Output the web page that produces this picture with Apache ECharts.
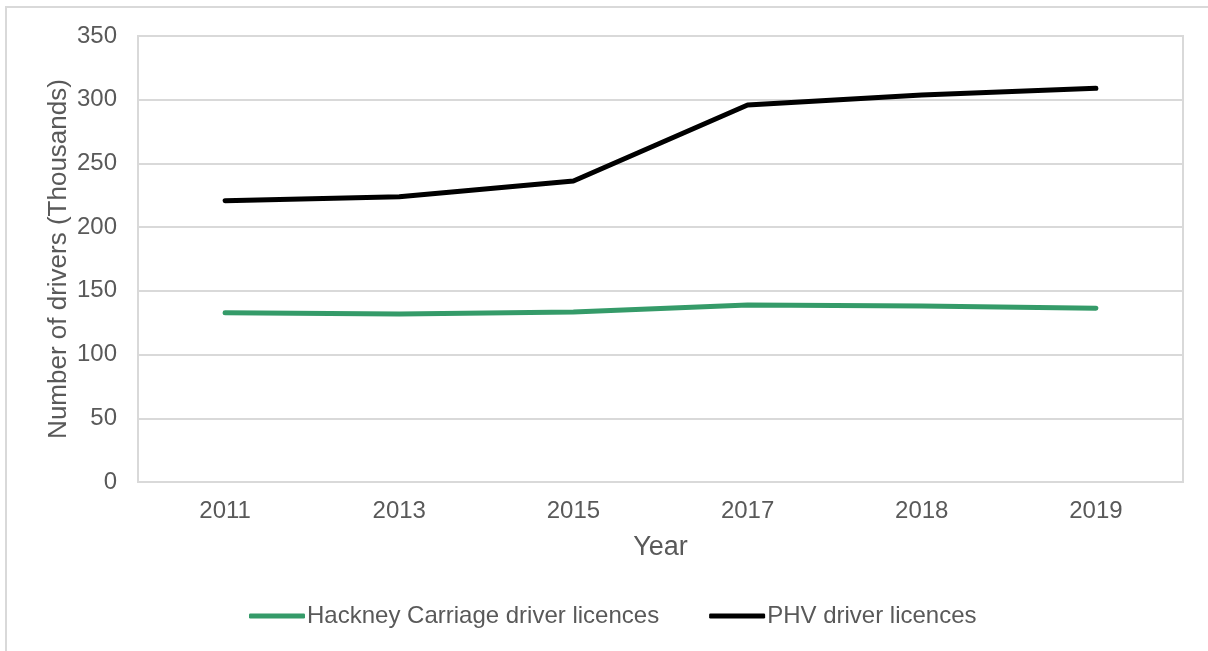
<!DOCTYPE html>
<html>
<head>
<meta charset="utf-8">
<script src="https://cdn.jsdelivr.net/npm/echarts@6/dist/echarts.min.js"></script>
<style>
  html, body { margin: 0; padding: 0; background: #fff; }
  #wrap { position: relative; width: 1208px; height: 651px; }
  #chart { width: 1208px; height: 651px; }
  .frame { position: absolute; left: 5px; top: 6px; right: 0; bottom: 0;
           border-left: 2px solid #d9d9d9; border-top: 2px solid #d9d9d9; pointer-events: none; }
</style>
</head>
<body>
<div id="wrap">
  <div id="chart"></div>
  <div class="frame"></div>
</div>
<script>
// licensed drivers, thousands
const years = ['2011', '2013', '2015', '2017', '2018', '2019'];
const hackney = [132.9, 131.8, 133.5, 138.9, 138.1, 136.3];
const phv = [220.8, 223.9, 236.2, 295.9, 303.7, 309.0];

const textColor = '#595959';
const gridColor = '#d9d9d9';
const font = 'Liberation Sans, Arial, sans-serif';

const chart = echarts.init(document.getElementById('chart'));
chart.setOption({
  animation: false,
  textStyle: { fontFamily: font },
  grid: {
    left: 138, right: 25, top: 36, bottom: 169,
    show: true, borderColor: gridColor, borderWidth: 2
  },
  legend: {
    left: 244, top: 599,
    icon: 'roundRect',
    itemWidth: 56, itemHeight: 5, itemGap: 50,
    textStyle: { color: textColor, fontSize: 24, fontFamily: font, padding: [0, 0, 0, -3] },
    data: ['Hackney Carriage driver licences', 'PHV driver licences']
  },
  xAxis: {
    type: 'category',
    data: years,
    name: 'Year',
    nameLocation: 'middle',
    nameGap: 52,
    nameTextStyle: { color: textColor, fontSize: 27 },
    axisLine: { lineStyle: { color: gridColor, width: 2 } },
    axisTick: { show: false },
    axisLabel: { color: textColor, fontSize: 24, margin: 17 }
  },
  yAxis: {
    type: 'value',
    min: 0, max: 350, interval: 50,
    name: 'Number of drivers (Thousands)',
    nameLocation: 'middle',
    nameMoveOverlap: false,
    nameGap: 66,
    nameTextStyle: { color: textColor, fontSize: 26 },
    axisLine: { show: true, lineStyle: { color: gridColor, width: 2 } },
    axisLabel: { color: textColor, fontSize: 24, margin: 21 },
    splitLine: { lineStyle: { color: gridColor, width: 2 } }
  },
  series: [
    {
      name: 'Hackney Carriage driver licences',
      type: 'line',
      data: hackney,
      symbol: 'none',
      color: '#359b69',
      lineStyle: { width: 5, color: '#359b69', cap: 'round' }
    },
    {
      name: 'PHV driver licences',
      type: 'line',
      data: phv,
      symbol: 'none',
      color: '#000000',
      lineStyle: { width: 5, color: '#000000', cap: 'round' }
    }
  ]
});
</script>
</body>
</html>
